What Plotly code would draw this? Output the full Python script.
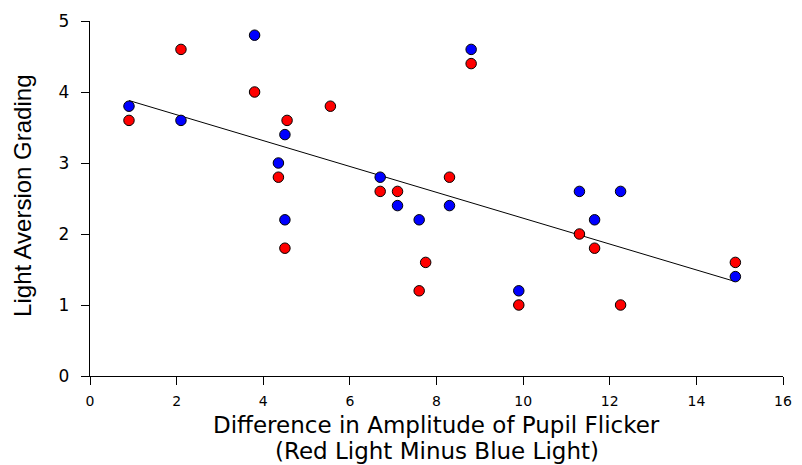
import plotly.graph_objects as go

# Data
blue_x = [0.9, 2.1, 3.8, 4.35, 4.5, 4.5, 6.7, 7.1, 7.6, 8.3, 8.8, 9.9, 11.3, 11.65, 12.25, 14.9]
blue_y = [3.8, 3.6, 4.8, 3.0, 3.4, 2.2, 2.8, 2.4, 2.2, 2.4, 4.6, 1.2, 2.6, 2.2, 2.6, 1.4]

red_x = [0.9, 2.1, 3.8, 4.35, 4.55, 4.5, 5.55, 6.7, 7.1, 7.6, 7.75, 8.3, 8.8, 9.9, 11.3, 11.65, 12.25, 14.9]
red_y = [3.6, 4.6, 4.0, 2.8, 3.6, 1.8, 3.8, 2.6, 2.6, 1.2, 1.6, 2.8, 4.4, 1.0, 2.0, 1.8, 1.0, 1.6]

fit_x = [0.9, 14.9]
fit_y = [3.88, 1.33]

x_ticks = [0, 2, 4, 6, 8, 10, 12, 14, 16]
y_ticks = [0, 1, 2, 3, 4, 5]

x_title_1 = "Difference in Amplitude of Pupil Flicker"
x_title_2 = "(Red Light Minus Blue Light)"
y_title = "Light Aversion Grading"

FONT = "Liberation Sans, Arial, sans-serif"
WIDE = "DejaVu Sans, sans-serif"

fig = go.Figure()
fig.add_trace(go.Scatter(x=fit_x, y=fit_y, mode="lines",
                         line=dict(color="black", width=1), showlegend=False, hoverinfo="skip"))
fig.add_trace(go.Scatter(x=blue_x, y=blue_y, mode="markers",
                         marker=dict(color="#0000FF", size=10.5, line=dict(color="black", width=1)),
                         showlegend=False))
fig.add_trace(go.Scatter(x=red_x, y=red_y, mode="markers",
                         marker=dict(color="#FF0000", size=10.5, line=dict(color="black", width=1)),
                         showlegend=False))

axis_common = dict(showgrid=False, zeroline=False, showline=True, linecolor="black", linewidth=1.3,
                   ticks="outside", ticklen=8, tickwidth=1.3, tickcolor="black")

fig.update_xaxes(range=[0, 16], tickvals=x_ticks, ticklabelstandoff=4,
                 tickfont=dict(family=WIDE, size=14, color="black"), **axis_common)
fig.update_yaxes(range=[0, 5], tickvals=y_ticks, ticklabelstandoff=8,
                 tickfont=dict(family=WIDE, size=17, color="black"), **axis_common)

fig.update_layout(
    width=802, height=465,
    margin=dict(l=90, r=10, t=21, b=89),
    plot_bgcolor="white", paper_bgcolor="white",
    annotations=[
        dict(text=y_title, xref="paper", yref="paper", x=-0.0983, y=0.507,
             xanchor="center", yanchor="middle", textangle=-90, showarrow=False,
             font=dict(family=FONT, size=24, color="black")),
        dict(text=x_title_1, xref="paper", yref="paper", x=0.5, y=-0.0958,
             xanchor="center", yanchor="top", showarrow=False,
             font=dict(family=WIDE, size=23, color="black")),
        dict(text=x_title_2, xref="paper", yref="paper", x=0.5, y=-0.169,
             xanchor="center", yanchor="top", showarrow=False,
             font=dict(family=WIDE, size=23, color="black")),
    ],
)

fig.write_html("out.html")
